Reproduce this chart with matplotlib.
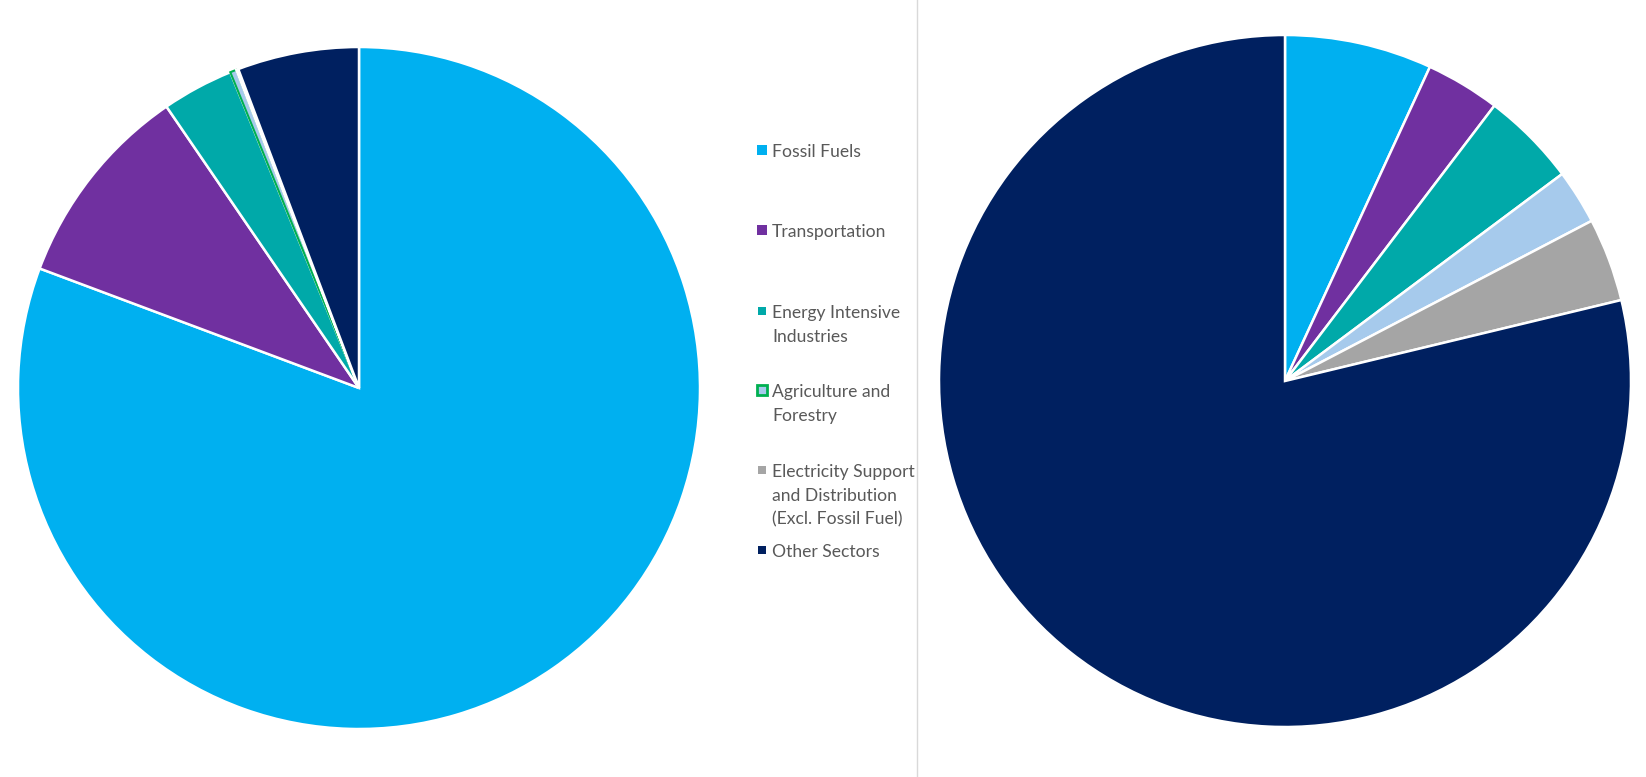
import matplotlib.pyplot as plt
from matplotlib.patches import Rectangle
from matplotlib.lines import Line2D

# ---- data ----
sectors = ["Fossil Fuels", "Transportation", "Energy Intensive\nIndustries",
           "Agriculture and\nForestry",
           "Electricity Support\nand Distribution\n(Excl. Fossil Fuel)",
           "Other Sectors"]
left_share = [80.7, 9.75, 3.39, 0.3, 0.1, 5.76]
right_share = [6.88, 3.47, 4.44, 2.55, 3.90, 78.76]
colors = ["#00B0F0", "#7030A0", "#00A9A9", "#A6CAEC", "#A5A5A5", "#002060"]

W, H = 1646, 777
fig = plt.figure(figsize=(W / 100, H / 100), dpi=100)
fig.patch.set_facecolor("white")


def pie_axes(cx, cy, r):
    # pixel centre / radius -> figure-fraction axes
    return fig.add_axes([(cx - r) / W, (H - cy - r) / H, 2 * r / W, 2 * r / H])


# ---- left pie ----
ax1 = pie_axes(359, 388, 341)
wedges, _ = ax1.pie(left_share, colors=colors, startangle=90, counterclock=False,
                    wedgeprops=dict(edgecolor="white", linewidth=1.8))
wedges[3].set_edgecolor("#00B050")
wedges[3].set_linewidth(1.5)
ax1.set_xlim(-1.0, 1.0)
ax1.set_ylim(-1.0, 1.0)
ax1.set_aspect("equal")
ax1.axis("off")

# ---- right pie ----
ax2 = pie_axes(1285, 381, 346)
ax2.pie(right_share, colors=colors, startangle=90, counterclock=False,
        wedgeprops=dict(edgecolor="white", linewidth=1.8))
ax2.set_xlim(-1.0, 1.0)
ax2.set_ylim(-1.0, 1.0)
ax2.set_aspect("equal")
ax2.axis("off")

# divider line
fig.add_artist(Line2D([917 / W, 917 / W], [0, 1], color="#D9D9D9", lw=1,
                      transform=fig.transFigure))

# ---- legend (manual; y = centre of first text line in px) ----
leg_y = [150, 230, 311, 390, 470, 550]
box_sz = [10, 10, 8, 10, 8, 8]
for name, c, y, s in zip(sectors, colors, leg_y, box_sz):
    agri = name.startswith("Agriculture")
    fig.add_artist(Rectangle(((762 - s / 2) / W, (H - y - s / 2) / H), s / W, s / H,
                             facecolor=c, edgecolor="#00B050" if agri else c,
                             lw=2 if agri else 0, transform=fig.transFigure))
    fig.text(772 / W, (H - y + 6) / H, name, fontsize=12.6, color="#595959",
             family=["Lato", "DejaVu Sans"], va="top", ha="left",
             linespacing=1.58)

fig.savefig("out.png", dpi=100, facecolor="white")
